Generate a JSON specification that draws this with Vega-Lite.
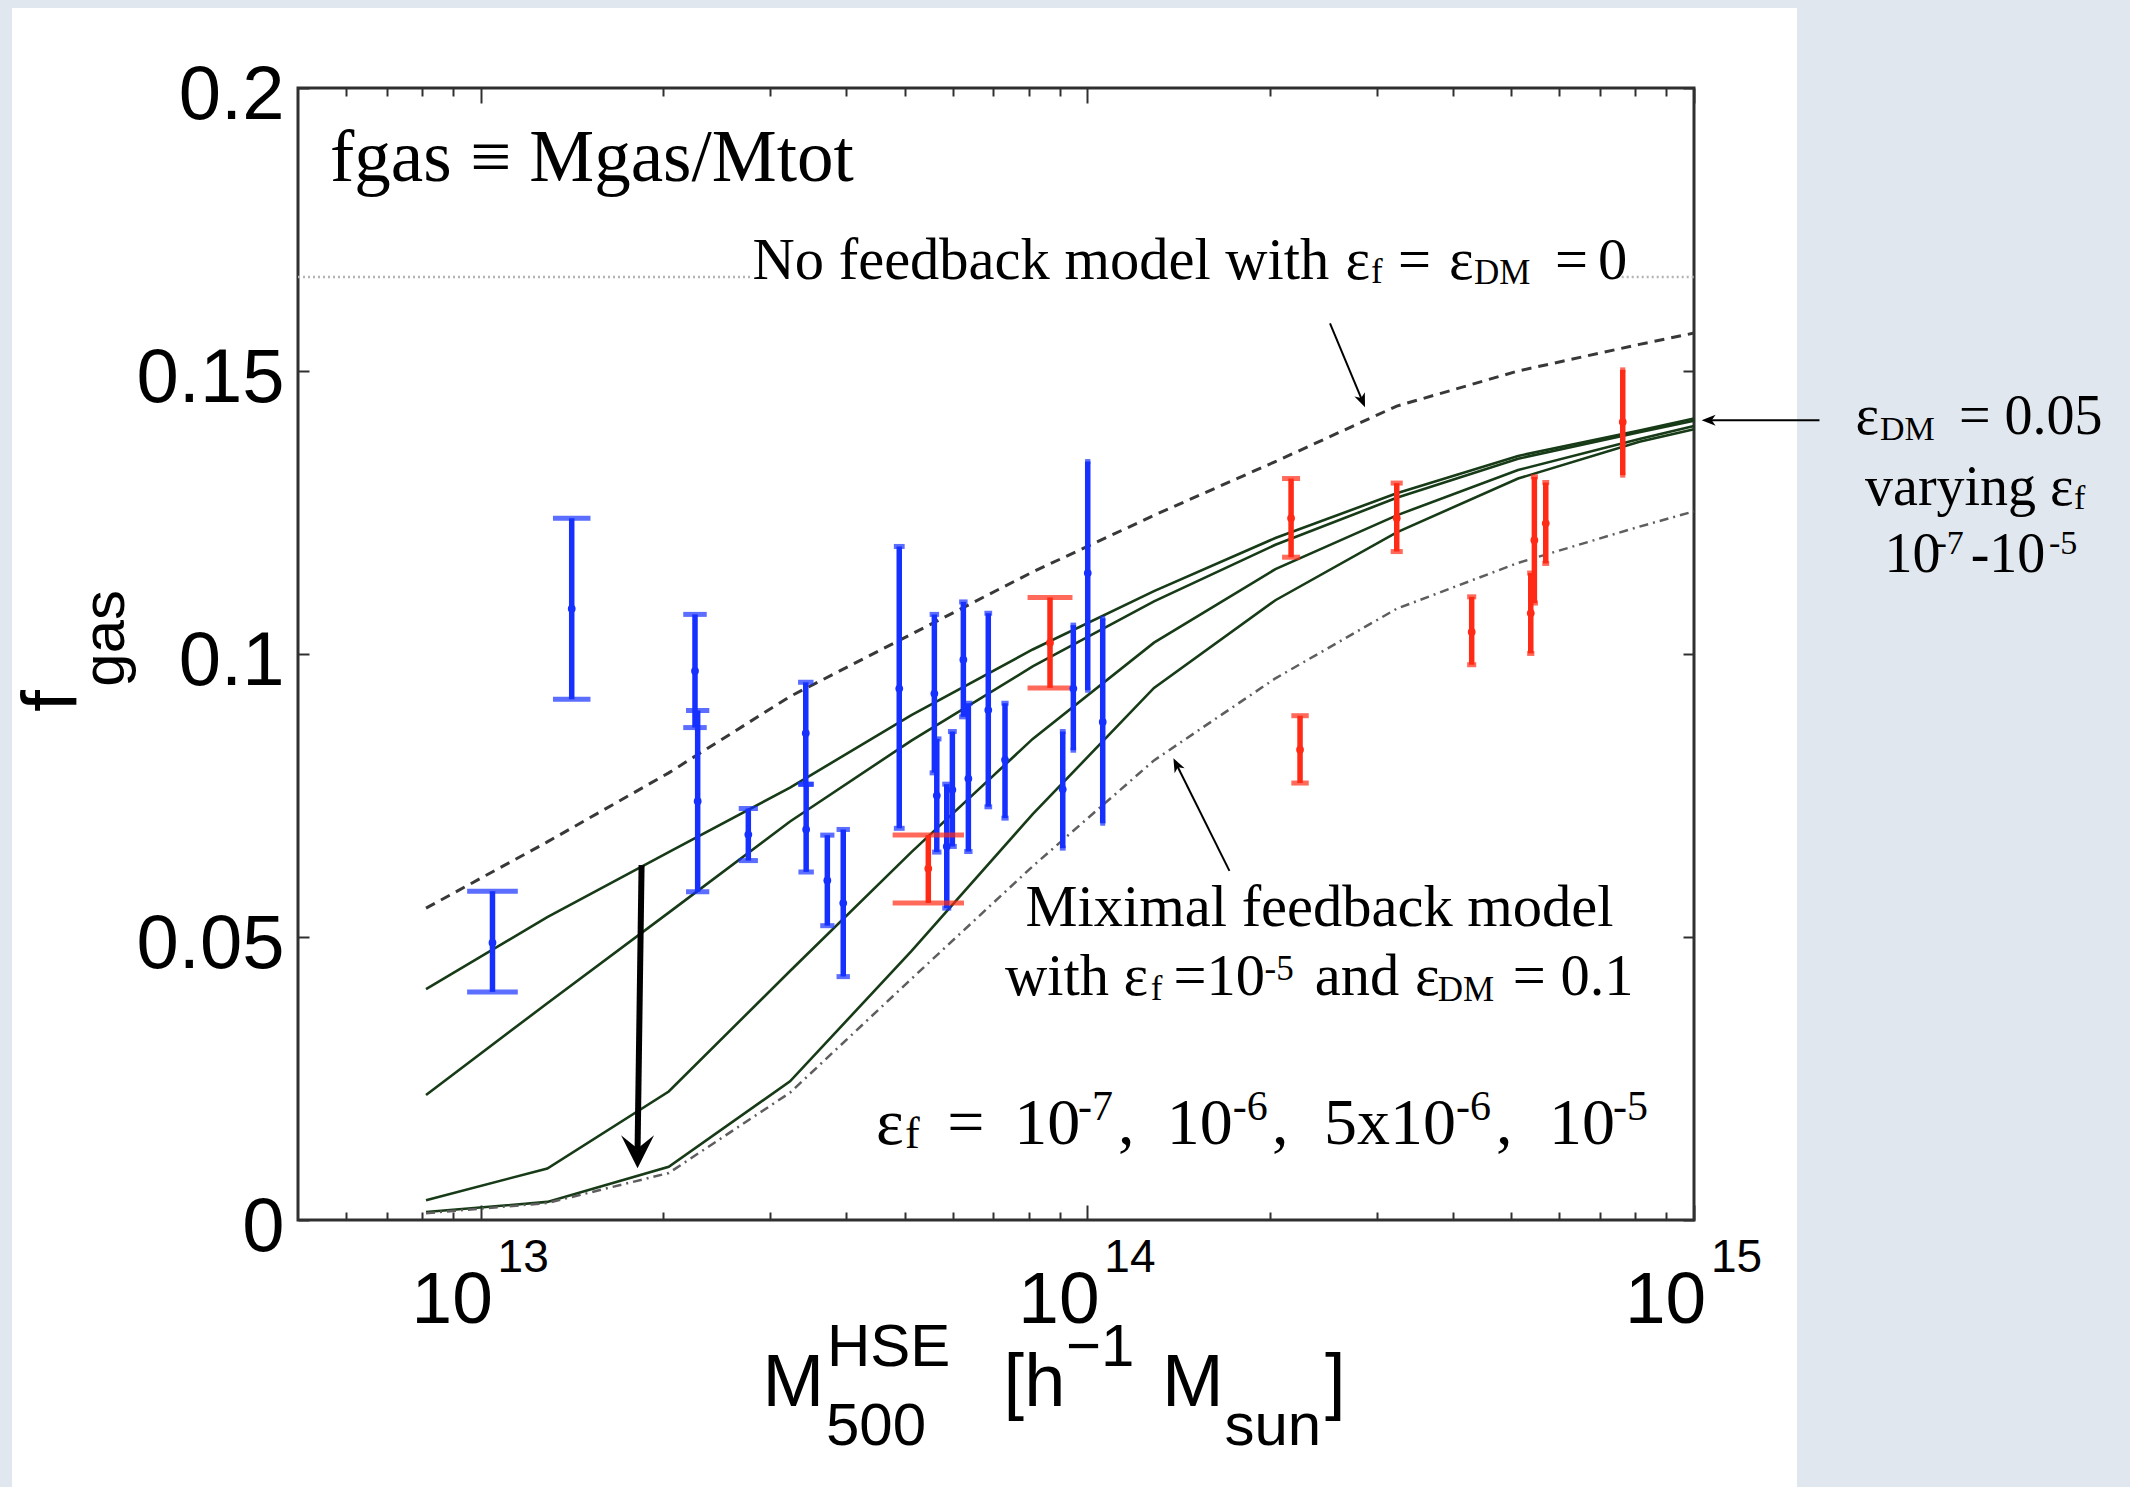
{
  "$schema": "https://vega.github.io/schema/vega-lite/v6.json",
  "width": 1396,
  "height": 1132,
  "autosize": {"type": "none"},
  "padding": {"left": 298, "top": 88, "right": 436, "bottom": 267},
  "background": "#ffffff",
  "config": {"view": {"stroke": "#303030", "strokeWidth": 3}},
  "datasets": {
    "backdrop": [
      {"part": "right", "m": 1.478e15, "m2": 1e17, "f": -0.2, "f2": 0.4},
      {"part": "left", "m": 1e11, "m2": 1.689e12, "f": -0.2, "f2": 0.4},
      {"part": "top", "m": 1e11, "m2": 1e17, "f": 0.21413, "f2": 0.4}
    ],
    "baryon": [
      {"m": 5e12, "m2": 2.807e13, "f": 0.1666},
      {"m": 7.6e14, "m2": 1e15, "f": 0.1666}
    ],
    "curves": [
      {"model": "no feedback", "m": 8.128e12, "f": 0.0551},
      {"model": "no feedback", "m": 1.288e13, "f": 0.0668},
      {"model": "no feedback", "m": 2.042e13, "f": 0.0790},
      {"model": "no feedback", "m": 3.236e13, "f": 0.0925},
      {"model": "no feedback", "m": 5.129e13, "f": 0.1035},
      {"model": "no feedback", "m": 8.128e13, "f": 0.1145},
      {"model": "no feedback", "m": 1.288e14, "f": 0.1245},
      {"model": "no feedback", "m": 2.042e14, "f": 0.1340},
      {"model": "no feedback", "m": 3.236e14, "f": 0.1438},
      {"model": "no feedback", "m": 5.129e14, "f": 0.1500},
      {"model": "no feedback", "m": 8.128e14, "f": 0.1547},
      {"model": "no feedback", "m": 1e15, "f": 0.1567},
      {"model": "ef 1e-7", "m": 8.128e12, "f": 0.0408},
      {"model": "ef 1e-7", "m": 1.288e13, "f": 0.0535},
      {"model": "ef 1e-7", "m": 2.042e13, "f": 0.0650},
      {"model": "ef 1e-7", "m": 3.236e13, "f": 0.0764},
      {"model": "ef 1e-7", "m": 5.129e13, "f": 0.0892},
      {"model": "ef 1e-7", "m": 8.128e13, "f": 0.1008},
      {"model": "ef 1e-7", "m": 1.288e14, "f": 0.1111},
      {"model": "ef 1e-7", "m": 2.042e14, "f": 0.1205},
      {"model": "ef 1e-7", "m": 3.236e14, "f": 0.1284},
      {"model": "ef 1e-7", "m": 5.129e14, "f": 0.1350},
      {"model": "ef 1e-7", "m": 8.128e14, "f": 0.1395},
      {"model": "ef 1e-7", "m": 1e15, "f": 0.1416},
      {"model": "ef 1e-6", "m": 8.128e12, "f": 0.0221},
      {"model": "ef 1e-6", "m": 1.288e13, "f": 0.0383},
      {"model": "ef 1e-6", "m": 2.042e13, "f": 0.0543},
      {"model": "ef 1e-6", "m": 3.236e13, "f": 0.0704},
      {"model": "ef 1e-6", "m": 5.129e13, "f": 0.0847},
      {"model": "ef 1e-6", "m": 8.128e13, "f": 0.0978},
      {"model": "ef 1e-6", "m": 1.288e14, "f": 0.1093},
      {"model": "ef 1e-6", "m": 2.042e14, "f": 0.1193},
      {"model": "ef 1e-6", "m": 3.236e14, "f": 0.1276},
      {"model": "ef 1e-6", "m": 5.129e14, "f": 0.1345},
      {"model": "ef 1e-6", "m": 8.128e14, "f": 0.1392},
      {"model": "ef 1e-6", "m": 1e15, "f": 0.1412},
      {"model": "ef 5e-6", "m": 8.128e12, "f": 0.0035},
      {"model": "ef 5e-6", "m": 1.288e13, "f": 0.0091},
      {"model": "ef 5e-6", "m": 2.042e13, "f": 0.0227},
      {"model": "ef 5e-6", "m": 3.236e13, "f": 0.0440},
      {"model": "ef 5e-6", "m": 5.129e13, "f": 0.0650},
      {"model": "ef 5e-6", "m": 8.128e13, "f": 0.0850},
      {"model": "ef 5e-6", "m": 1.288e14, "f": 0.1020},
      {"model": "ef 5e-6", "m": 2.042e14, "f": 0.1150},
      {"model": "ef 5e-6", "m": 3.236e14, "f": 0.1245},
      {"model": "ef 5e-6", "m": 5.129e14, "f": 0.1325},
      {"model": "ef 5e-6", "m": 8.128e14, "f": 0.1380},
      {"model": "ef 5e-6", "m": 1e15, "f": 0.1403},
      {"model": "ef 1e-5", "m": 8.128e12, "f": 0.0014},
      {"model": "ef 1e-5", "m": 1.288e13, "f": 0.0032},
      {"model": "ef 1e-5", "m": 2.042e13, "f": 0.0094},
      {"model": "ef 1e-5", "m": 3.236e13, "f": 0.0245},
      {"model": "ef 1e-5", "m": 5.129e13, "f": 0.0475},
      {"model": "ef 1e-5", "m": 8.128e13, "f": 0.0717},
      {"model": "ef 1e-5", "m": 1.288e14, "f": 0.0940},
      {"model": "ef 1e-5", "m": 2.042e14, "f": 0.1095},
      {"model": "ef 1e-5", "m": 3.236e14, "f": 0.1215},
      {"model": "ef 1e-5", "m": 5.129e14, "f": 0.1310},
      {"model": "ef 1e-5", "m": 8.128e14, "f": 0.1375},
      {"model": "ef 1e-5", "m": 1e15, "f": 0.1397},
      {"model": "maximal", "m": 8.128e12, "f": 0.0012},
      {"model": "maximal", "m": 1.288e13, "f": 0.0030},
      {"model": "maximal", "m": 2.042e13, "f": 0.0083},
      {"model": "maximal", "m": 3.236e13, "f": 0.0225},
      {"model": "maximal", "m": 5.129e13, "f": 0.0426},
      {"model": "maximal", "m": 8.128e13, "f": 0.0625},
      {"model": "maximal", "m": 1.288e14, "f": 0.0812},
      {"model": "maximal", "m": 2.042e14, "f": 0.0957},
      {"model": "maximal", "m": 3.236e14, "f": 0.1080},
      {"model": "maximal", "m": 5.129e14, "f": 0.1161},
      {"model": "maximal", "m": 8.128e14, "f": 0.1225},
      {"model": "maximal", "m": 1e15, "f": 0.1252}
    ],
    "points": [
      {"sample": "groups", "m": 1.046e13, "f": 0.049, "lo": 0.0403, "hi": 0.0581},
      {"sample": "groups", "m": 1.413e13, "f": 0.108, "lo": 0.092, "hi": 0.124},
      {"sample": "groups", "m": 2.256e13, "f": 0.097, "lo": 0.087, "hi": 0.107},
      {"sample": "groups", "m": 2.279e13, "f": 0.074, "lo": 0.058, "hi": 0.090},
      {"sample": "groups", "m": 2.762e13, "f": 0.0681, "lo": 0.0635, "hi": 0.0727},
      {"sample": "groups", "m": 3.435e13, "f": 0.086, "lo": 0.077, "hi": 0.095},
      {"sample": "groups", "m": 3.44e13, "f": 0.069, "lo": 0.0615, "hi": 0.077},
      {"sample": "groups", "m": 3.728e13, "f": 0.060, "lo": 0.052, "hi": 0.068},
      {"sample": "groups", "m": 3.96e13, "f": 0.056, "lo": 0.043, "hi": 0.069},
      {"sample": "groups", "m": 4.898e13, "f": 0.0939, "lo": 0.0692, "hi": 0.119},
      {"sample": "groups", "m": 5.596e13, "f": 0.093, "lo": 0.079, "hi": 0.107},
      {"sample": "groups", "m": 5.648e13, "f": 0.075, "lo": 0.065, "hi": 0.085},
      {"sample": "groups", "m": 5.866e13, "f": 0.066, "lo": 0.0551, "hi": 0.077},
      {"sample": "groups", "m": 5.992e13, "f": 0.076, "lo": 0.066, "hi": 0.0863},
      {"sample": "groups", "m": 6.247e13, "f": 0.099, "lo": 0.0889, "hi": 0.1092},
      {"sample": "groups", "m": 6.367e13, "f": 0.078, "lo": 0.0651, "hi": 0.0913},
      {"sample": "groups", "m": 6.867e13, "f": 0.0901, "lo": 0.073, "hi": 0.1072},
      {"sample": "groups", "m": 7.317e13, "f": 0.0813, "lo": 0.071, "hi": 0.0913},
      {"sample": "groups", "m": 9.11e13, "f": 0.0761, "lo": 0.0657, "hi": 0.0863},
      {"sample": "groups", "m": 9.483e13, "f": 0.0939, "lo": 0.083, "hi": 0.1051},
      {"sample": "groups", "m": 1.0016e14, "f": 0.1143, "lo": 0.0936, "hi": 0.134},
      {"sample": "groups", "m": 1.0602e14, "f": 0.088, "lo": 0.0701, "hi": 0.1063},
      {"sample": "clusters", "m": 5.469e13, "f": 0.0621, "lo": 0.056, "hi": 0.068},
      {"sample": "clusters", "m": 8.68e13, "f": 0.102, "lo": 0.094, "hi": 0.110},
      {"sample": "clusters", "m": 2.167e14, "f": 0.124, "lo": 0.1171, "hi": 0.131},
      {"sample": "clusters", "m": 2.242e14, "f": 0.0831, "lo": 0.0772, "hi": 0.0891},
      {"sample": "clusters", "m": 3.236e14, "f": 0.124, "lo": 0.1181, "hi": 0.1302},
      {"sample": "clusters", "m": 4.301e14, "f": 0.1039, "lo": 0.0981, "hi": 0.1101},
      {"sample": "clusters", "m": 5.382e14, "f": 0.1072, "lo": 0.1001, "hi": 0.1143},
      {"sample": "clusters", "m": 5.456e14, "f": 0.1201, "lo": 0.109, "hi": 0.1313},
      {"sample": "clusters", "m": 5.697e14, "f": 0.1231, "lo": 0.116, "hi": 0.1303},
      {"sample": "clusters", "m": 7.63e14, "f": 0.141, "lo": 0.1316, "hi": 0.1502}
    ],
    "arrows": [
      {"arrow": "big", "m": 1.842e13, "f": 0.0627, "m2": 1.814e13, "f2": 0.01205},
      {"arrow": "no-feedback", "m": 2.512e14, "f": 0.15843, "m2": 2.84e14, "f2": 0.14473},
      {"arrow": "maximal", "m": 1.715e14, "f": 0.06168, "m2": 1.403e14, "f2": 0.08048},
      {"arrow": "edm", "m": 1.61e15, "f": 0.1413, "m2": 1.057e15, "f2": 0.1413}
    ],
    "notes": [
      {"text": "fgas ≡ Mgas/Mtot", "m": 5.646e12, "f": 0.18357, "kind": "heading"},
      {"text": "No feedback model with", "m": 2.807e13, "f": 0.1663, "kind": "note"},
      {"text": "ε", "m": 2.665e14, "f": 0.1663, "kind": "note"},
      {"text": "f", "m": 2.935e14, "f": 0.16555, "kind": "note-sub"},
      {"text": "=", "m": 3.252e14, "f": 0.1663, "kind": "note"},
      {"text": "ε", "m": 3.946e14, "f": 0.1663, "kind": "note"},
      {"text": "DM", "m": 4.339e14, "f": 0.16537, "kind": "note-sub"},
      {"text": "=", "m": 5.901e14, "f": 0.1663, "kind": "note"},
      {"text": "0", "m": 6.947e14, "f": 0.1663, "kind": "note"},
      {"text": "ε", "m": 1.845e15, "f": 0.13887, "kind": "side"},
      {"text": "DM", "m": 2.026e15, "f": 0.13781, "kind": "side-sub"},
      {"text": "= 0.05", "m": 2.734e15, "f": 0.13887, "kind": "side"},
      {"text": "varying ε", "m": 1.914e15, "f": 0.12625, "kind": "side"},
      {"text": "f", "m": 4.231e15, "f": 0.12562, "kind": "side-sub"},
      {"text": "10", "m": 2.061e15, "f": 0.11443, "kind": "side"},
      {"text": "-7", "m": 2.501e15, "f": 0.11774, "kind": "side-sub"},
      {"text": "-10", "m": 2.858e15, "f": 0.11443, "kind": "side"},
      {"text": "-5", "m": 3.847e15, "f": 0.11774, "kind": "side-sub"},
      {"text": "Miximal feedback model", "m": 7.909e13, "f": 0.05191, "kind": "note"},
      {"text": "with", "m": 7.317e13, "f": 0.03968, "kind": "note"},
      {"text": "ε", "m": 1.147e14, "f": 0.03968, "kind": "note"},
      {"text": "f", "m": 1.2725e14, "f": 0.03887, "kind": "note-sub"},
      {"text": "=10", "m": 1.387e14, "f": 0.03968, "kind": "note"},
      {"text": "-5", "m": 1.96e14, "f": 0.04247, "kind": "note-sub"},
      {"text": "and", "m": 2.37e14, "f": 0.03968, "kind": "note"},
      {"text": "ε", "m": 3.467e14, "f": 0.03968, "kind": "note"},
      {"text": "DM", "m": 3.781e14, "f": 0.03864, "kind": "note-sub"},
      {"text": "= 0.1", "m": 5.027e14, "f": 0.03968, "kind": "note"},
      {"text": "ε", "m": 4.484e13, "f": 0.01348, "kind": "eps"},
      {"text": "f", "m": 5.006e13, "f": 0.01272, "kind": "eps-sub"},
      {"text": "=", "m": 5.878e13, "f": 0.01348, "kind": "eps"},
      {"text": "10", "m": 7.577e13, "f": 0.01348, "kind": "eps"},
      {"text": "-7", "m": 9.649e13, "f": 0.01767, "kind": "eps-sup"},
      {"text": ",", "m": 1.124e14, "f": 0.01348, "kind": "eps"},
      {"text": "10", "m": 1.352e14, "f": 0.01348, "kind": "eps"},
      {"text": "-6", "m": 1.7365e14, "f": 0.01767, "kind": "eps-sup"},
      {"text": ",", "m": 2.016e14, "f": 0.01348, "kind": "eps"},
      {"text": "5x10", "m": 2.456e14, "f": 0.01348, "kind": "eps"},
      {"text": "-6", "m": 4.053e14, "f": 0.01767, "kind": "eps-sup"},
      {"text": ",", "m": 4.717e14, "f": 0.01348, "kind": "eps"},
      {"text": "10", "m": 5.768e14, "f": 0.01348, "kind": "eps"},
      {"text": "-5", "m": 7.354e14, "f": 0.01767, "kind": "eps-sup"}
    ],
    "axisText": [
      {"text": "10", "m": 7.695e12, "f": -0.01811, "kind": "tick"},
      {"text": "10", "m": 7.695e13, "f": -0.01811, "kind": "tick"},
      {"text": "10", "m": 7.695e14, "f": -0.01811, "kind": "tick"},
      {"text": "13", "m": 1.0666e13, "f": -0.009187, "kind": "tick-exp"},
      {"text": "14", "m": 1.0666e14, "f": -0.009187, "kind": "tick-exp"},
      {"text": "15", "m": 1.0666e15, "f": -0.009187, "kind": "tick-exp"},
      {"text": "M", "m": 2.915e13, "f": -0.032862, "kind": "title"},
      {"text": "HSE", "m": 3.723e13, "f": -0.025795, "kind": "title-script"},
      {"text": "500", "m": 3.709e13, "f": -0.039753, "kind": "title-script"},
      {"text": "[h", "m": 7.278e13, "f": -0.032862, "kind": "title"},
      {"text": "−1", "m": 9.223e13, "f": -0.025795, "kind": "title-script"},
      {"text": "M", "m": 1.328e14, "f": -0.032862, "kind": "title"},
      {"text": "sun", "m": 1.683e14, "f": -0.039753, "kind": "title-script"},
      {"text": "]", "m": 2.465e14, "f": -0.032862, "kind": "title"}
    ],
    "yTitle": [
      {"text": "f", "m": 2.162e12, "f": 0.089806, "kind": "ytitle"},
      {"text": "gas", "m": 2.583e12, "f": 0.094223, "kind": "ytitle-sub"}
    ]
  },
  "resolve": {"axis": {"x": "independent", "y": "independent"}, "scale": {"size": "independent"}},
  "layer": [
    {
      "data": {"name": "backdrop"},
      "mark": {"type": "rect", "color": "#e1e7ee"},
      "encoding": {
        "x": {"field": "m", "type": "quantitative", "scale": {"type": "log", "domain": [5e12, 1e15], "nice": false}, "axis": null},
        "x2": {"field": "m2"},
        "y": {"field": "f", "type": "quantitative", "scale": {"domain": [0, 0.2], "nice": false, "zero": false}, "axis": null},
        "y2": {"field": "f2"}
      }
    },
    {
      "data": {"name": "baryon"},
      "mark": {"type": "rule", "color": "#b4b4b4", "strokeWidth": 2.5, "strokeDash": [2, 3]},
      "encoding": {
        "x": {"field": "m", "type": "quantitative", "scale": {"type": "log", "domain": [5e12, 1e15], "nice": false},
          "axis": {"orient": "bottom", "values": [6e12, 7e12, 8e12, 9e12, 1e13, 2e13, 3e13, 4e13, 5e13, 6e13, 7e13, 8e13, 9e13, 1e14, 2e14, 3e14, 4e14, 5e14, 6e14, 7e14, 8e14, 9e14, 1e15],
            "labels": false, "domain": false, "grid": false, "title": null, "tickColor": "#303030", "tickWidth": 2,
            "tickSize": {"condition": {"test": "datum.value == 1e13 || datum.value == 1e14 || datum.value == 1e15", "value": -15}, "value": -8}}},
        "x2": {"field": "m2"},
        "y": {"field": "f", "type": "quantitative", "scale": {"domain": [0, 0.2], "nice": false, "zero": false},
          "axis": {"orient": "left", "values": [0, 0.05, 0.1, 0.15, 0.2], "labelExpr": "'' + datum.value",
            "labelFont": "Liberation Sans", "labelFontSize": 76, "labelColor": "#000000", "labelPadding": 25,
            "labelBaseline": "middle", "labelOffset": 7, "labelFlush": false, "labelOverlap": false, "labelBound": false,
            "tickSize": -11, "tickWidth": 2, "tickColor": "#303030", "domain": false, "grid": false, "title": null}}
      }
    },
    {
      "data": {"name": "curves"},
      "transform": [{"filter": "datum.model == 'no feedback'"}],
      "mark": {"type": "line", "color": "#383838", "strokeWidth": 3, "strokeDash": [10, 7]},
      "encoding": {
        "x": {"field": "m", "type": "quantitative", "scale": {"type": "log", "domain": [5e12, 1e15], "nice": false},
          "axis": {"orient": "top", "values": [6e12, 7e12, 8e12, 9e12, 1e13, 2e13, 3e13, 4e13, 5e13, 6e13, 7e13, 8e13, 9e13, 1e14, 2e14, 3e14, 4e14, 5e14, 6e14, 7e14, 8e14, 9e14, 1e15],
            "labels": false, "domain": false, "grid": false, "title": null, "tickColor": "#303030", "tickWidth": 2,
            "tickSize": {"condition": {"test": "datum.value == 1e13 || datum.value == 1e14 || datum.value == 1e15", "value": -15}, "value": -8}}},
        "y": {"field": "f", "type": "quantitative", "scale": {"domain": [0, 0.2], "nice": false, "zero": false},
          "axis": {"orient": "right", "values": [0, 0.05, 0.1, 0.15, 0.2], "labels": false, "tickSize": -11, "tickWidth": 2, "tickColor": "#303030", "domain": false, "grid": false, "title": null}}
      }
    },
    {
      "data": {"name": "curves"},
      "transform": [{"filter": "indexof(datum.model, 'ef ') == 0"}],
      "mark": {"type": "line", "color": "#173a17", "strokeWidth": 2.6},
      "encoding": {
        "x": {"field": "m", "type": "quantitative", "axis": null},
        "y": {"field": "f", "type": "quantitative", "axis": null},
        "detail": {"field": "model", "type": "nominal"}
      }
    },
    {
      "data": {"name": "curves"},
      "transform": [{"filter": "datum.model == 'maximal'"}],
      "mark": {"type": "line", "color": "#5e5e5e", "strokeWidth": 2.5, "strokeDash": [9, 5, 2, 5]},
      "encoding": {
        "x": {"field": "m", "type": "quantitative", "axis": null},
        "y": {"field": "f", "type": "quantitative", "axis": null}
      }
    },
    {
      "data": {"name": "points"},
      "mark": {"type": "rule", "strokeWidth": 5.5},
      "encoding": {
        "x": {"field": "m", "type": "quantitative", "axis": null},
        "y": {"field": "lo", "type": "quantitative", "axis": null},
        "y2": {"field": "hi"},
        "color": {"field": "sample", "type": "nominal", "scale": {"domain": ["groups", "clusters"], "range": ["#1530ff", "#ff2b16"]}, "legend": null}
      }
    },
    {
      "data": {"name": "points"},
      "transform": [{"filter": "datum.sample == 'groups'"}],
      "mark": {"type": "tick", "orient": "horizontal", "thickness": 5, "color": "#1530ff"},
      "encoding": {
        "x": {"field": "m", "type": "quantitative", "axis": null},
        "y": {"field": "lo", "type": "quantitative", "axis": null},
        "size": {"field": "m", "type": "quantitative", "scale": {"type": "pow", "exponent": -1, "domain": [1e13, 1e15], "range": [53, 0.53], "zero": false, "nice": false}, "legend": null}
      }
    },
    {
      "data": {"name": "points"},
      "transform": [{"filter": "datum.sample == 'groups'"}],
      "mark": {"type": "tick", "orient": "horizontal", "thickness": 5, "color": "#1530ff"},
      "encoding": {
        "x": {"field": "m", "type": "quantitative", "axis": null},
        "y": {"field": "hi", "type": "quantitative", "axis": null},
        "size": {"field": "m", "type": "quantitative", "scale": {"type": "pow", "exponent": -1, "domain": [1e13, 1e15], "range": [53, 0.53], "zero": false, "nice": false}, "legend": null}
      }
    },
    {
      "data": {"name": "points"},
      "transform": [{"filter": "datum.sample == 'clusters'"}],
      "mark": {"type": "tick", "orient": "horizontal", "thickness": 5, "color": "#ff2b16"},
      "encoding": {
        "x": {"field": "m", "type": "quantitative", "axis": null},
        "y": {"field": "lo", "type": "quantitative", "axis": null},
        "size": {"field": "m", "type": "quantitative", "scale": {"type": "pow", "exponent": -1, "domain": [1e13, 1e15], "range": [390, 3.9], "zero": false, "nice": false}, "legend": null}
      }
    },
    {
      "data": {"name": "points"},
      "transform": [{"filter": "datum.sample == 'clusters'"}],
      "mark": {"type": "tick", "orient": "horizontal", "thickness": 5, "color": "#ff2b16"},
      "encoding": {
        "x": {"field": "m", "type": "quantitative", "axis": null},
        "y": {"field": "hi", "type": "quantitative", "axis": null},
        "size": {"field": "m", "type": "quantitative", "scale": {"type": "pow", "exponent": -1, "domain": [1e13, 1e15], "range": [390, 3.9], "zero": false, "nice": false}, "legend": null}
      }
    },
    {
      "data": {"name": "points"},
      "mark": {"type": "point", "filled": true, "size": 60, "opacity": 1},
      "encoding": {
        "x": {"field": "m", "type": "quantitative", "axis": null},
        "y": {"field": "f", "type": "quantitative", "axis": null},
        "color": {"field": "sample", "type": "nominal", "scale": {"domain": ["groups", "clusters"], "range": ["#1530ff", "#ff2b16"]}, "legend": null}
      }
    },
    {
      "data": {"name": "arrows"},
      "transform": [{"filter": "datum.arrow == 'big'"}],
      "mark": {"type": "rule", "color": "#000000", "strokeWidth": 6},
      "encoding": {
        "x": {"field": "m", "type": "quantitative", "axis": null},
        "y": {"field": "f", "type": "quantitative", "axis": null},
        "x2": {"field": "m2"},
        "y2": {"field": "f2"}
      }
    },
    {
      "data": {"name": "arrows"},
      "transform": [{"filter": "datum.arrow != 'big'"}],
      "mark": {"type": "rule", "color": "#000000", "strokeWidth": 2},
      "encoding": {
        "x": {"field": "m", "type": "quantitative", "axis": null},
        "y": {"field": "f", "type": "quantitative", "axis": null},
        "x2": {"field": "m2"},
        "y2": {"field": "f2"}
      }
    },
    {
      "data": {"name": "arrows"},
      "transform": [{"filter": "datum.arrow == 'big'"}],
      "mark": {"type": "point", "shape": "M0,1L-1,-1L0,-0.2L1,-1Z", "size": 1089, "filled": true, "opacity": 1, "color": "#000000", "angle": 0},
      "encoding": {
        "x": {"field": "m2", "type": "quantitative", "axis": null},
        "y": {"field": "f2", "type": "quantitative", "axis": null}
      }
    },
    {
      "data": {"name": "arrows"},
      "transform": [{"filter": "datum.arrow == 'no-feedback'"}],
      "mark": {"type": "point", "shape": "M0,1L-0.8,-1L0,-0.45L0.8,-1Z", "size": 196, "filled": true, "opacity": 1, "color": "#000000", "angle": 337.4},
      "encoding": {
        "x": {"field": "m2", "type": "quantitative", "axis": null},
        "y": {"field": "f2", "type": "quantitative", "axis": null}
      }
    },
    {
      "data": {"name": "arrows"},
      "transform": [{"filter": "datum.arrow == 'maximal'"}],
      "mark": {"type": "point", "shape": "M0,1L-0.8,-1L0,-0.45L0.8,-1Z", "size": 196, "filled": true, "opacity": 1, "color": "#000000", "angle": 153.6},
      "encoding": {
        "x": {"field": "m2", "type": "quantitative", "axis": null},
        "y": {"field": "f2", "type": "quantitative", "axis": null}
      }
    },
    {
      "data": {"name": "arrows"},
      "transform": [{"filter": "datum.arrow == 'edm'"}],
      "mark": {"type": "point", "shape": "M0,1L-0.8,-1L0,-0.45L0.8,-1Z", "size": 196, "filled": true, "opacity": 1, "color": "#000000", "angle": 90},
      "encoding": {
        "x": {"field": "m2", "type": "quantitative", "axis": null},
        "y": {"field": "f2", "type": "quantitative", "axis": null}
      }
    },
    {
      "data": {"name": "notes"},
      "transform": [{"filter": "datum.kind == 'heading'"}],
      "mark": {"type": "text", "font": "Liberation Serif", "fontSize": 73, "align": "left", "baseline": "alphabetic", "color": "#000000"},
      "encoding": {"x": {"field": "m", "type": "quantitative", "axis": null}, "y": {"field": "f", "type": "quantitative", "axis": null}, "text": {"field": "text"}}
    },
    {
      "data": {"name": "notes"},
      "transform": [{"filter": "datum.kind == 'note'"}],
      "mark": {"type": "text", "font": "Liberation Serif", "fontSize": 58.5, "align": "left", "baseline": "alphabetic", "color": "#000000"},
      "encoding": {"x": {"field": "m", "type": "quantitative", "axis": null}, "y": {"field": "f", "type": "quantitative", "axis": null}, "text": {"field": "text"}}
    },
    {
      "data": {"name": "notes"},
      "transform": [{"filter": "datum.kind == 'note-sub'"}],
      "mark": {"type": "text", "font": "Liberation Serif", "fontSize": 35, "align": "left", "baseline": "alphabetic", "color": "#000000"},
      "encoding": {"x": {"field": "m", "type": "quantitative", "axis": null}, "y": {"field": "f", "type": "quantitative", "axis": null}, "text": {"field": "text"}}
    },
    {
      "data": {"name": "notes"},
      "transform": [{"filter": "datum.kind == 'side'"}],
      "mark": {"type": "text", "font": "Liberation Serif", "fontSize": 56, "align": "left", "baseline": "alphabetic", "color": "#000000"},
      "encoding": {"x": {"field": "m", "type": "quantitative", "axis": null}, "y": {"field": "f", "type": "quantitative", "axis": null}, "text": {"field": "text"}}
    },
    {
      "data": {"name": "notes"},
      "transform": [{"filter": "datum.kind == 'side-sub'"}],
      "mark": {"type": "text", "font": "Liberation Serif", "fontSize": 34, "align": "left", "baseline": "alphabetic", "color": "#000000"},
      "encoding": {"x": {"field": "m", "type": "quantitative", "axis": null}, "y": {"field": "f", "type": "quantitative", "axis": null}, "text": {"field": "text"}}
    },
    {
      "data": {"name": "notes"},
      "transform": [{"filter": "datum.kind == 'eps'"}],
      "mark": {"type": "text", "font": "Liberation Serif", "fontSize": 66, "align": "left", "baseline": "alphabetic", "color": "#000000"},
      "encoding": {"x": {"field": "m", "type": "quantitative", "axis": null}, "y": {"field": "f", "type": "quantitative", "axis": null}, "text": {"field": "text"}}
    },
    {
      "data": {"name": "notes"},
      "transform": [{"filter": "datum.kind == 'eps-sub'"}],
      "mark": {"type": "text", "font": "Liberation Serif", "fontSize": 44, "align": "left", "baseline": "alphabetic", "color": "#000000"},
      "encoding": {"x": {"field": "m", "type": "quantitative", "axis": null}, "y": {"field": "f", "type": "quantitative", "axis": null}, "text": {"field": "text"}}
    },
    {
      "data": {"name": "notes"},
      "transform": [{"filter": "datum.kind == 'eps-sup'"}],
      "mark": {"type": "text", "font": "Liberation Serif", "fontSize": 42, "align": "left", "baseline": "alphabetic", "color": "#000000"},
      "encoding": {"x": {"field": "m", "type": "quantitative", "axis": null}, "y": {"field": "f", "type": "quantitative", "axis": null}, "text": {"field": "text"}}
    },
    {
      "data": {"name": "axisText"},
      "transform": [{"filter": "datum.kind == 'tick'"}],
      "mark": {"type": "text", "font": "Liberation Sans", "fontSize": 73, "align": "left", "baseline": "alphabetic", "color": "#000000"},
      "encoding": {"x": {"field": "m", "type": "quantitative", "axis": null}, "y": {"field": "f", "type": "quantitative", "axis": null}, "text": {"field": "text"}}
    },
    {
      "data": {"name": "axisText"},
      "transform": [{"filter": "datum.kind == 'tick-exp'"}],
      "mark": {"type": "text", "font": "Liberation Sans", "fontSize": 46, "align": "left", "baseline": "alphabetic", "color": "#000000"},
      "encoding": {"x": {"field": "m", "type": "quantitative", "axis": null}, "y": {"field": "f", "type": "quantitative", "axis": null}, "text": {"field": "text"}}
    },
    {
      "data": {"name": "axisText"},
      "transform": [{"filter": "datum.kind == 'title'"}],
      "mark": {"type": "text", "font": "Liberation Sans", "fontSize": 74, "align": "left", "baseline": "alphabetic", "color": "#000000"},
      "encoding": {"x": {"field": "m", "type": "quantitative", "axis": null}, "y": {"field": "f", "type": "quantitative", "axis": null}, "text": {"field": "text"}}
    },
    {
      "data": {"name": "axisText"},
      "transform": [{"filter": "datum.kind == 'title-script'"}],
      "mark": {"type": "text", "font": "Liberation Sans", "fontSize": 60, "align": "left", "baseline": "alphabetic", "color": "#000000"},
      "encoding": {"x": {"field": "m", "type": "quantitative", "axis": null}, "y": {"field": "f", "type": "quantitative", "axis": null}, "text": {"field": "text"}}
    },
    {
      "data": {"name": "yTitle"},
      "transform": [{"filter": "datum.kind == 'ytitle'"}],
      "mark": {"type": "text", "font": "Liberation Sans", "fontSize": 78, "align": "left", "baseline": "alphabetic", "color": "#000000", "angle": 270},
      "encoding": {"x": {"field": "m", "type": "quantitative", "axis": null}, "y": {"field": "f", "type": "quantitative", "axis": null}, "text": {"field": "text"}}
    },
    {
      "data": {"name": "yTitle"},
      "transform": [{"filter": "datum.kind == 'ytitle-sub'"}],
      "mark": {"type": "text", "font": "Liberation Sans", "fontSize": 60, "align": "left", "baseline": "alphabetic", "color": "#000000", "angle": 270},
      "encoding": {"x": {"field": "m", "type": "quantitative", "axis": null}, "y": {"field": "f", "type": "quantitative", "axis": null}, "text": {"field": "text"}}
    }
  ]
}
